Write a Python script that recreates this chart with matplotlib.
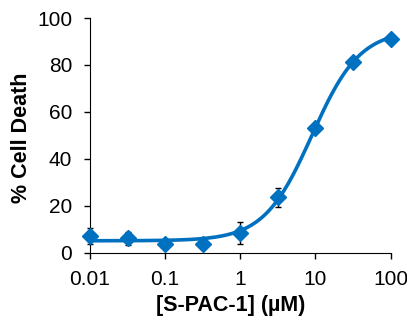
import numpy as np
import matplotlib
matplotlib.use("Agg")
import matplotlib.pyplot as plt

plt.rcParams["font.family"] = ["Liberation Sans", "DejaVu Sans"]

conc = [0.01, 0.0316, 0.1, 0.316, 1, 3.16, 10, 31.6, 100]
death = [7.0, 6.0, 3.6, 3.6, 8.2, 23.5, 53.0, 81.4, 90.9]
err = [3.5, 2.8, 1.0, 1.0, 4.7, 3.9, 1.0, 1.0, 0.8]

# 4-parameter logistic fit
bottom, top, ec50, hill = 5.0, 95.0, 9.0, 1.36

xs = np.logspace(-2, 2, 300)
fit = bottom + (top - bottom) / (1 + (ec50 / xs) ** hill)

fig = plt.figure(figsize=(4.07, 3.24), dpi=100)
ax = fig.add_axes([90 / 407, 1 - 252.5 / 324, 300.5 / 407, 234.5 / 324])

ax.plot(xs, fit, color="#0070C0", lw=2.6, zorder=2, clip_on=False)
ax.errorbar(conc, death, yerr=err, fmt="none", ecolor="black", elinewidth=1,
            capsize=2.5, capthick=1, zorder=3, clip_on=False)
ax.plot(conc, death, "D", color="#0070C0", ms=8, zorder=4, clip_on=False)

ax.set_xscale("log")
ax.set_xlim(0.01, 100)
ax.set_ylim(0, 100)
ax.set_xticks([0.01, 0.1, 1, 10, 100])
ax.set_xticklabels(["0.01", "0.1", "1", "10", "100"])
ax.minorticks_off()
ax.set_yticks(range(0, 101, 20))
ax.tick_params(direction="out", length=4.3, labelsize=15, width=1)
ax.tick_params(axis="y", pad=8.6)
ax.tick_params(axis="x", pad=8.3)

for s in ["top", "right"]:
    ax.spines[s].set_visible(False)

ax.set_xlabel("[S-PAC-1] (µM)", fontsize=15.5, fontweight="bold")
ax.set_ylabel("% Cell Death", fontsize=15.5, fontweight="bold")
ax.xaxis.set_label_coords(0.469, -0.181)
ax.yaxis.set_label_coords(-0.193, 0.49)

fig.savefig("out.png", dpi=100)
